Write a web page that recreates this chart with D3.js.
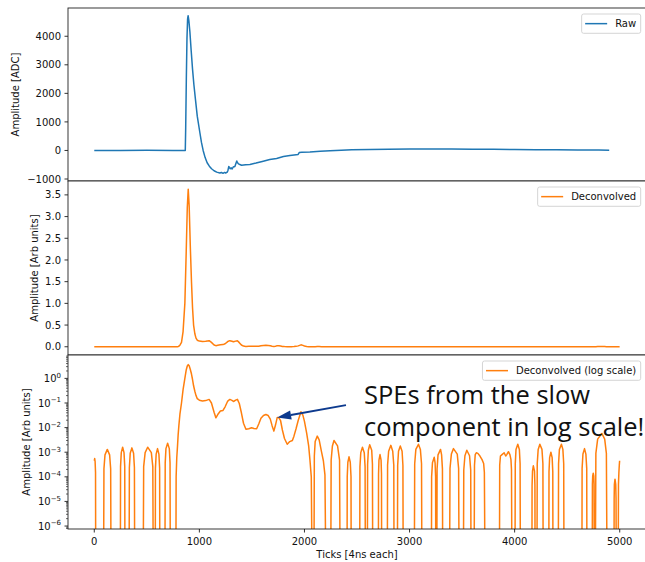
<!DOCTYPE html>
<html>
<head>
<meta charset="utf-8">
<script src="https://cdn.jsdelivr.net/npm/d3@7"></script>
<style>
  html, body { margin: 0; padding: 0; background: #fff; }
  svg { display: block; font-family: "DejaVu Sans", sans-serif; }
</style>
</head>
<body>
<svg id="chart" width="645" height="562"></svg>
<script>
// ---- data -------------------------------------------------------------
// Raw waveform [tick, ADC]
const rawTrace = [
  [0,0],[250,-4],[500,3],[750,-2],[866,0],[870,800],[876,2500],[882,3900],[888,4600],
  [893,4720],[900,4550],[910,4150],[922,3500],[935,2850],[948,2300],[963,1780],[980,1200],
  [1005,620],[1020,280],[1036,0],[1055,-250],[1074,-430],[1095,-550],[1116,-640],[1140,-710],
  [1165,-760],[1195,-790],[1210,-770],[1225,-800],[1240,-770],[1250,-790],[1265,-760],[1272,-700],[1280,-560],[1286,-600],
  [1294,-640],[1302,-610],[1312,-650],[1322,-580],[1338,-560],[1350,-430],[1356,-370],[1362,-420],
  [1372,-470],[1390,-500],[1402,-520],[1440,-500],[1481,-490],[1540,-440],[1608,-375],[1670,-320],
  [1735,-280],[1800,-210],[1862,-175],[1940,-140],[1950,-75],[1975,-65],[2052,-55],[2150,-25],
  [2243,-10],[2350,10],[2450,25],[2624,35],[2800,45],[3000,50],[3200,52],[3400,50],[3600,45],
  [3800,40],[4000,35],[4200,28],[4400,22],[4600,18],[4800,12],[4900,10]
];

// Deconvolved waveform [tick, arb. units]; non-positive samples fall below the log axis
const deconvTrace = [
  [0,4.5e-4],[4,5.5e-4],[8,4.2e-4],[12,1.5e-4],[14,0],
  [88,0],[92,2.1e-4],[102,7.8e-4],[124,1.3e-3],[146,7.8e-4],[156,2.1e-4],[160,0],
  [248,0],[250,2.6e-4],[257,9.6e-4],[270,1.6e-3],[283,9.6e-4],[290,2.6e-4],[292,0],
  [331,0],[334,2.4e-4],[342,9e-4],[358,1.5e-3],[374,9e-4],[382,2.4e-4],[385,0],
  [465,0],[470,2.6e-4],[484,9.6e-4],[508,1.6e-3],[543,9.6e-4],[557,2.6e-4],[562,0],
  [580,0],[582,2.2e-4],[589,8.4e-4],[602,1.4e-3],[615,8.4e-4],[622,2.2e-4],[624,0],
  [672,0],[675,3.7e-4],[682,1.4e-3],[698,2.3e-3],[714,1.4e-3],[721,3.7e-4],[724,0],
  [776,0],[779,1e-4],[785,6e-4],[791,1.5e-3],[798,5e-3],[805,0.012],[815,0.035],[830,0.1],
  [845,0.35],[862,1.0],[875,2.2],[885,3.2],[894,3.63],[903,3.25],[914,2.3],[925,1.5],
  [935,0.9],[945,0.5],[957,0.3],[968,0.2],[980,0.15],[1000,0.13],[1030,0.12],[1060,0.125],
  [1093,0.14],[1115,0.1],[1140,0.042],[1157,0.025],[1175,0.034],[1200,0.047],[1225,0.05],
  [1245,0.07],[1270,0.12],[1290,0.14],[1310,0.128],[1325,0.115],[1345,0.13],[1362,0.14],
  [1380,0.095],[1400,0.04],[1420,0.015],[1443,0.0085],[1470,0.009],[1497,0.0098],[1520,0.0092],
  [1545,0.009],[1565,0.014],[1586,0.024],[1610,0.031],[1633,0.034],[1655,0.031],[1675,0.022],
  [1692,0.012],[1709,0.0072],[1725,0.013],[1741,0.026],[1757,0.025],[1773,0.019],[1790,0.008],
  [1810,0.0036],[1836,0.0021],[1860,0.0027],[1885,0.003],[1900,0.0045],[1920,0.009],[1941,0.02],
  [1967,0.044],[1985,0.032],[2000,0.018],[2021,0.006],[2040,0.0018],[2052,5e-4],[2065,1e-4],[2074,0],
  [2090,0],[2094,7e-4],[2102,2.7e-3],[2122,4.5e-3],[2140,3.2e-3],[2163,1.0e-3],[2180,4.5e-4],[2195,1.2e-4],[2205,0],
  [2250,0],[2254,4.8e-4],[2266,1.8e-3],[2281,3.0e-3],[2315,1.8e-3],[2334,4.8e-4],[2340,0],
  [2405,0],[2407,1.0e-4],[2413,3.9e-4],[2424,6.5e-4],[2436,3.9e-4],[2443,1.0e-4],[2445,0],
  [2525,0],[2528,2.6e-4],[2536,9.6e-4],[2552,1.6e-3],[2569,9.6e-4],[2577,2.6e-4],[2580,0],
  [2598,0],[2601,3.2e-4],[2608,1.2e-3],[2621,2.0e-3],[2640,1.2e-3],[2647,3.2e-4],[2650,0],
  [2703,0],[2705,1.3e-4],[2709,4.8e-4],[2719,8e-4],[2729,4.8e-4],[2733,1.3e-4],[2735,0],
  [2788,0],[2791,3.0e-4],[2801,1.1e-3],[2822,1.9e-3],[2840,1.1e-3],[2850,3.0e-4],[2853,0],
  [2884,0],[2887,2.9e-4],[2895,1.1e-3],[2912,1.8e-3],[2929,1.1e-3],[2937,2.9e-4],[2940,0],
  [3045,0],[3049,3.4e-4],[3060,1.3e-3],[3085,2.1e-3],[3103,1.3e-3],[3114,3.4e-4],[3118,0],
  [3208,0],[3210,1.0e-4],[3218,3.7e-4],[3235,6.2e-4],[3243,3.7e-4],[3248,1.0e-4],[3250,0],
  [3259,0],[3262,2.1e-4],[3271,7.8e-4],[3295,1.3e-3],[3305,7.8e-4],[3313,2.1e-4],[3316,0],
  [3380,0],[3385,2.2e-4],[3398,8.4e-4],[3418,1.4e-3],[3454,8.4e-4],[3467,2.2e-4],[3472,0],
  [3512,0],[3516,1.9e-4],[3527,7.2e-4],[3545,1.2e-3],[3571,7.2e-4],[3582,1.9e-4],[3586,0],
  [3614,0],[3618,3e-4],[3625,8e-4],[3635,9.5e-4],[3650,9e-4],[3670,7e-4],[3690,5e-4],[3705,3.5e-4],[3712,1.5e-4],[3719,0],
  [3855,0],[3858,3e-4],[3865,7e-4],[3880,8e-4],[3900,9.5e-4],[3915,7e-4],[3925,8e-4],[3941,1.05e-3],[3955,8e-4],[3965,5e-4],[3970,2e-4],[3975,0],
  [4003,0],[4006,3.4e-4],[4013,1.3e-3],[4030,2.1e-3],[4045,1.3e-3],[4052,3.4e-4],[4055,0],
  [4164,0],[4166,4.5e-5],[4170,1.7e-4],[4178,2.8e-4],[4189,1.7e-4],[4193,4.5e-5],[4195,0],
  [4212,0],[4215,3.4e-4],[4224,1.3e-3],[4240,2.1e-3],[4260,1.3e-3],[4269,3.4e-4],[4272,0],
  [4325,0],[4327,1.6e-4],[4333,6e-4],[4345,1.0e-3],[4357,6e-4],[4363,1.6e-4],[4365,0],
  [4415,0],[4418,3.4e-4],[4426,1.3e-3],[4445,2.1e-3],[4459,1.3e-3],[4467,3.4e-4],[4470,0],
  [4640,0],[4642,2.2e-4],[4650,8.4e-4],[4665,1.4e-3],[4678,8.4e-4],[4686,2.2e-4],[4688,0],
  [4738,0],[4740,5e-5],[4743,1.1e-4],[4748,1.4e-4],[4753,1.1e-4],[4756,5e-5],[4758,0],
  [4767,0],[4773,9e-4],[4790,3.4e-3],[4830,5.8e-3],[4857,3.4e-3],[4873,9e-4],[4880,0],
  [4945,0],[4947,1.3e-5],[4949,4.8e-5],[4955,8e-5],[4962,4.8e-5],[4965,1.3e-5],[4967,0],
  [4985,0],[4988,5e-5],[4992,1.5e-4],[4996,3e-4],[4999,4.5e-4]
];

const xTickValues = [0, 1000, 2000, 3000, 4000, 5000];
const rawTickValues = [-1000, 0, 1000, 2000, 3000, 4000];
const linTickValues = [0, 0.5, 1.0, 1.5, 2.0, 2.5, 3.0, 3.5];
const logTickExponents = [-6, -5, -4, -3, -2, -1, 0];
const seriesLabels = ["Raw", "Deconvolved", "Deconvolved (log scale)"];
const yAxisTitles = ["Amplitude [ADC]", "Amplitude [Arb units]", "Amplitude [Arb units]"];
const xAxisTitle = "Ticks [4ns each]";
const noteLines = ["SPEs from the slow", "component in log scale!"];
const noteArrow = { from: [2395, 0.082], to: [1740, 0.026] };

// ---- layout -----------------------------------------------------------
const BLUE = "#1f77b4", ORANGE = "#ff7f0e", NAVY = "#0d3a8e";
const svg = d3.select("#chart");
const axLeft = 68, axRight = 646;
const bands = [[8, 181], [181, 355], [355, 529]];

const x = d3.scaleLinear().domain([-250, 5250]).range([axLeft, axRight]);
const yRaw = d3.scaleLinear().domain([-1070, 4990]).range([bands[0][1], bands[0][0]]);
const yLin = d3.scaleLinear().domain([-0.19, 3.82]).range([bands[1][1], bands[1][0]]);
const yLog = d3.scaleLog().domain([Math.pow(10, -6.12), Math.pow(10, 0.95)]).range([bands[2][1], bands[2][0]]);

const fmtRaw = v => (v < 0 ? "\u2212" : "") + Math.abs(v);
const fmtLin = v => v.toFixed(1);

function panel(i, yScale, data, color, ticks, labelFn, titleX, isLog) {
  const [top, bottom] = bands[i];
  const g = svg.append("g");
  g.append("rect").attr("x", axLeft).attr("y", top).attr("width", axRight - axLeft)
    .attr("height", bottom - top).attr("fill", "#fff");
  const clipId = "clip" + i;
  svg.append("clipPath").attr("id", clipId).append("rect")
    .attr("x", axLeft).attr("y", top).attr("width", axRight - axLeft).attr("height", bottom - top);

  const yOf = d => {
    if (isLog) return d[1] > 0 ? yScale(d[1]) : bottom + 60;
    return yScale(d[1]);
  };
  const line = d3.line().x(d => x(d[0])).y(yOf);
  g.append("path").datum(data).attr("clip-path", `url(#${clipId})`)
    .attr("d", line).attr("fill", "none").attr("stroke", color)
    .attr("stroke-width", 1.5).attr("stroke-linejoin", "round");

  // y ticks
  const tg = g.append("g");
  if (isLog) {
    const [lo, hi] = yScale.domain();
    for (let e = -7; e <= 1; e++) {
      for (let m = 2; m <= 9; m++) {
        const v = m * Math.pow(10, e);
        if (v < lo || v > hi) continue;
        tg.append("line").attr("x1", axLeft - 2).attr("x2", axLeft)
          .attr("y1", yScale(v)).attr("y2", yScale(v)).attr("stroke", "#000").attr("stroke-width", 0.6);
      }
    }
    ticks.forEach(e => {
      const yy = yScale(Math.pow(10, e));
      tg.append("line").attr("x1", axLeft - 3.5).attr("x2", axLeft).attr("y1", yy).attr("y2", yy)
        .attr("stroke", "#000").attr("stroke-width", 0.8);
      const t = tg.append("text").attr("x", axLeft - 7).attr("y", yy + 3.6)
        .attr("text-anchor", "end").attr("font-size", 10).attr("fill", "#111");
      t.append("tspan").text("10");
      t.append("tspan").attr("dy", -4.2).attr("font-size", 7)
        .text(e < 0 ? "\u2212" + Math.abs(e) : String(e));
    });
  } else {
    ticks.forEach(v => {
      const yy = yScale(v);
      tg.append("line").attr("x1", axLeft - 3.5).attr("x2", axLeft).attr("y1", yy).attr("y2", yy)
        .attr("stroke", "#000").attr("stroke-width", 0.8);
      tg.append("text").attr("x", axLeft - 7).attr("y", yy + 3.6).attr("text-anchor", "end")
        .attr("font-size", 10).attr("fill", "#111").text(labelFn(v));
    });
  }

  // y axis title
  const cy = (top + bottom) / 2;
  g.append("text").attr("transform", `translate(${titleX},${cy}) rotate(-90)`)
    .attr("text-anchor", "middle").attr("font-size", 10).attr("fill", "#111").text(yAxisTitles[i]);

  // frame
  g.append("rect").attr("x", axLeft).attr("y", top).attr("width", axRight - axLeft)
    .attr("height", bottom - top).attr("fill", "none").attr("stroke", "#222").attr("stroke-width", 0.9);

  // legend (upper right)
  const lg = g.append("g");
  const lt = lg.append("text").attr("font-size", 10).attr("fill", "#111").text(seriesLabels[i]);
  const tw = lt.node().getComputedTextLength();
  const boxR = 640.7, boxTop = top + 6, boxH = 19.3;
  const textX = boxR - 4.5 - tw;
  const lineEnd = textX - 8, lineStart = lineEnd - 22;
  const boxL = lineStart - 3.5;
  lg.insert("rect", "text").attr("x", boxL).attr("y", boxTop).attr("width", boxR - boxL)
    .attr("height", boxH).attr("rx", 2).attr("fill", "#fff").attr("fill-opacity", 0.8)
    .attr("stroke", "#d0d0d0").attr("stroke-width", 0.9);
  lg.append("line").attr("x1", lineStart).attr("x2", lineEnd)
    .attr("y1", boxTop + boxH / 2).attr("y2", boxTop + boxH / 2)
    .attr("stroke", color).attr("stroke-width", 1.5);
  lt.attr("x", textX).attr("y", boxTop + boxH / 2 + 3.6);
  return g;
}

panel(0, yRaw, rawTrace, BLUE, rawTickValues, fmtRaw, 19, false);
panel(1, yLin, deconvTrace, ORANGE, linTickValues, fmtLin, 38, false);
panel(2, yLog, deconvTrace, ORANGE, logTickExponents, null, 30, true);

// x axis on the bottom panel
const xb = bands[2][1];
const xg = svg.append("g");
xTickValues.forEach(v => {
  xg.append("line").attr("x1", x(v)).attr("x2", x(v)).attr("y1", xb).attr("y2", xb + 3.5)
    .attr("stroke", "#000").attr("stroke-width", 0.8);
  xg.append("text").attr("x", x(v)).attr("y", xb + 15.5).attr("text-anchor", "middle")
    .attr("font-size", 10).attr("fill", "#111").text(v);
});
xg.append("text").attr("x", (axLeft + axRight) / 2).attr("y", 558).attr("text-anchor", "middle")
  .attr("font-size", 10).attr("fill", "#111").text(xAxisTitle);

// annotation arrow and note
const p0 = [x(noteArrow.from[0]), yLog(noteArrow.from[1])];
const p1 = [x(noteArrow.to[0]), yLog(noteArrow.to[1])];
const dx = p1[0] - p0[0], dy = p1[1] - p0[1], len = Math.hypot(dx, dy);
const ux = dx / len, uy = dy / len, nx = -uy, ny = ux;
const headL = 14, headW = 4.6;
const bx = p1[0] - headL * ux, by = p1[1] - headL * uy;
svg.append("line").attr("x1", p0[0]).attr("y1", p0[1]).attr("x2", bx).attr("y2", by)
  .attr("stroke", NAVY).attr("stroke-width", 2);
svg.append("path").attr("d",
  `M${p1[0]},${p1[1]}L${bx + headW * nx},${by + headW * ny}L${bx - headW * nx},${by - headW * ny}Z`)
  .attr("fill", NAVY);

const note = svg.append("text").attr("font-family", "'Open Sans', sans-serif").attr("font-size", 25.5)
  .attr("fill", "#111");
noteLines.forEach((s, k) => {
  note.append("tspan").attr("x", x(2566)).attr("y", yLog(0.087) + k * 31.5).text(s);
});
</script>
</body>
</html>
